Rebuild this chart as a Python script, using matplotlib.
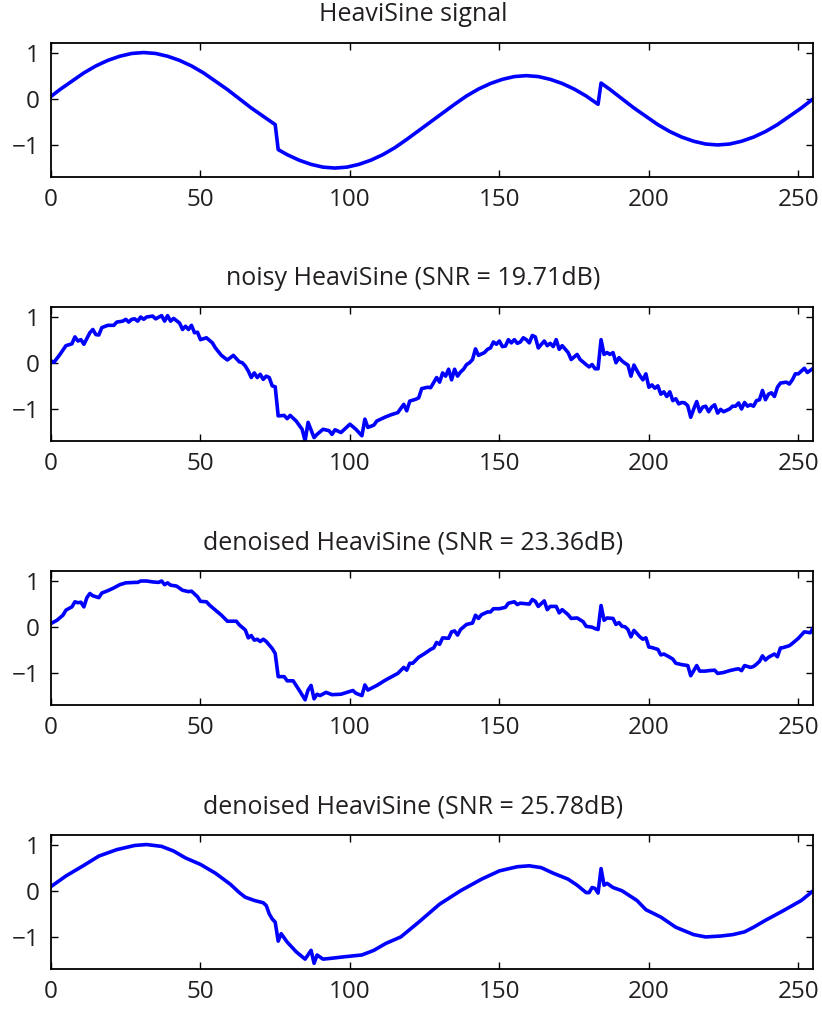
import matplotlib
matplotlib.use("Agg")
import matplotlib.pyplot as plt

# ---------------- data ----------------
titles = ["HeaviSine signal",
          "noisy HeaviSine (SNR = 19.71dB)",
          "denoised HeaviSine (SNR = 23.36dB)",
          "denoised HeaviSine (SNR = 25.78dB)"]

# (sample index, value) pairs
clean_pts = [(0, 0.05), (3, 0.20), (7, 0.38), (11, 0.56), (15, 0.71), (19, 0.83), (23, 0.92),
             (27, 0.98), (31, 1.00), (35, 0.98), (39, 0.92), (43, 0.83), (47, 0.71), (51, 0.56),
             (55, 0.38), (59, 0.20), (63, 0.00), (67, -0.20), (71, -0.38), (75, -0.56),
             (76, -1.10), (79, -1.21), (83, -1.33), (87, -1.42), (91, -1.48), (95, -1.50),
             (99, -1.48), (103, -1.42), (107, -1.33), (111, -1.21), (115, -1.06), (119, -0.88),
             (123, -0.69), (127, -0.50), (131, -0.31), (135, -0.12), (139, 0.06), (143, 0.21),
             (147, 0.33), (151, 0.42), (155, 0.48), (159, 0.50), (163, 0.48), (167, 0.42),
             (171, 0.33), (175, 0.21), (179, 0.06), (183, -0.12),
             (184, 0.34), (187, 0.20), (191, 0.00), (195, -0.20), (199, -0.38), (203, -0.56),
             (207, -0.71), (211, -0.83), (215, -0.92), (219, -0.98), (223, -1.00), (227, -0.98),
             (231, -0.92), (235, -0.83), (239, -0.71), (243, -0.56), (247, -0.38), (251, -0.20),
             (255, 0.00)]

noisy_pts = [(0, 0.04), (1, 0.01), (3, 0.18), (5, 0.37), (7, 0.41), (8, 0.56), (9, 0.47),
             (10, 0.50), (11, 0.40), (13, 0.65), (14, 0.72), (15, 0.61), (16, 0.60), (17, 0.76),
             (19, 0.81), (21, 0.81), (22, 0.88), (24, 0.90), (25, 0.94), (26, 0.88), (27, 0.94),
             (28, 0.95), (29, 0.90), (30, 0.99), (31, 0.94), (32, 0.99), (34, 1.01), (35, 0.95),
             (37, 1.02), (38, 0.90), (39, 1.02), (40, 0.90), (41, 0.96), (43, 0.86), (44, 0.72),
             (45, 0.79), (46, 0.72), (47, 0.81), (48, 0.65), (49, 0.66), (50, 0.50), (52, 0.54),
             (54, 0.43), (55, 0.32), (57, 0.16), (59, 0.06), (61, 0.16), (63, 0.02),
             (64, 0.00), (65, -0.07), (66, -0.18), (67, -0.32), (68, -0.22), (69, -0.32),
             (70, -0.25), (71, -0.36), (72, -0.29), (73, -0.32), (74, -0.50), (75, -0.52),
             (76, -1.15), (78, -1.14), (79, -1.21), (80, -1.14), (82, -1.26), (84, -1.44),
             (85, -1.69), (86, -1.29), (88, -1.62), (89, -1.55), (91, -1.44), (93, -1.47),
             (94, -1.55), (95, -1.45), (97, -1.51), (98, -1.45), (100, -1.33), (102, -1.44),
             (104, -1.58), (105, -1.22), (106, -1.40), (108, -1.35), (109, -1.26), (112, -1.17),
             (114, -1.12), (116, -1.08), (118, -0.90), (119, -1.04), (120, -0.83), (122, -0.79),
             (123, -0.76), (124, -0.56), (126, -0.53),
             (127, -0.54), (129, -0.32), (130, -0.42), (131, -0.22), (132, -0.29), (133, -0.14),
             (134, -0.37), (135, -0.14), (136, -0.29), (137, -0.20), (138, -0.14), (139, -0.04),
             (140, 0.00), (141, 0.07), (142, 0.30), (143, 0.16), (145, 0.22), (146, 0.29),
             (147, 0.32), (148, 0.45), (149, 0.40), (150, 0.47), (151, 0.35), (152, 0.36),
             (153, 0.50), (154, 0.43), (155, 0.50), (156, 0.42), (157, 0.45), (158, 0.54),
             (159, 0.50), (160, 0.43), (161, 0.59), (162, 0.56), (163, 0.32), (165, 0.47),
             (166, 0.37), (167, 0.42), (168, 0.35), (169, 0.50), (170, 0.29), (171, 0.37),
             (173, 0.22), (174, 0.07), (176, 0.18), (177, 0.07), (179, -0.04), (180, -0.09),
             (181, -0.04), (182, -0.13), (183, -0.13), (184, 0.50), (185, 0.18), (186, 0.22),
             (187, 0.18), (188, 0.22), (189, 0.00), (190, 0.11),
             (191, 0.04), (192, -0.01), (193, -0.05), (194, -0.29), (195, -0.05), (196, -0.17),
             (197, -0.28), (198, -0.37), (199, -0.24), (200, -0.53), (201, -0.48), (202, -0.55),
             (203, -0.50), (204, -0.68), (205, -0.63), (206, -0.73), (207, -0.63), (208, -0.82),
             (209, -0.78), (210, -0.89), (211, -0.86), (212, -0.87), (213, -0.93), (214, -1.18),
             (215, -1.00), (216, -0.84), (217, -1.06), (218, -0.96), (219, -0.94), (220, -1.06),
             (221, -0.96), (222, -0.91), (223, -1.09), (224, -1.01), (225, -1.06), (227, -1.00),
             (228, -0.94), (229, -0.94), (230, -0.87), (231, -1.00), (232, -0.86), (233, -0.94),
             (234, -0.91), (235, -0.94), (236, -0.82), (237, -0.80), (238, -0.60), (239, -0.80),
             (240, -0.68), (241, -0.65), (242, -0.73), (243, -0.53), (244, -0.44), (246, -0.42),
             (247, -0.46), (248, -0.37), (249, -0.24), (250, -0.24), (252, -0.12), (253, -0.21),
             (255, -0.12)]

den1_pts = [(0, 0.07), (2, 0.14), (4, 0.25), (5, 0.36), (7, 0.43), (8, 0.54), (9, 0.52),
            (10, 0.53), (11, 0.43), (12, 0.63), (13, 0.72), (14, 0.67), (16, 0.63), (17, 0.73),
            (19, 0.78), (21, 0.84), (23, 0.91), (25, 0.95), (28, 0.96), (29, 0.96), (30, 0.99),
            (32, 0.99), (34, 0.97), (36, 0.96), (37, 0.99), (38, 0.91), (39, 0.95), (40, 0.90),
            (42, 0.88), (44, 0.79), (46, 0.76), (47, 0.77), (49, 0.65), (50, 0.55), (52, 0.54),
            (53, 0.47), (55, 0.36), (57, 0.25), (59, 0.12), (62, 0.12), (63, 0.04), (65, -0.07),
            (66, -0.24), (67, -0.19), (68, -0.29), (69, -0.27), (70, -0.32), (71, -0.27),
            (72, -0.32), (74, -0.47), (75, -0.58), (76, -1.08), (78, -1.08), (79, -1.17),
            (81, -1.17), (83, -1.37), (85, -1.58), (86, -1.37), (87, -1.27), (88, -1.56),
            (89, -1.46), (90, -1.49), (92, -1.42), (94, -1.47), (97, -1.46), (99, -1.42),
            (101, -1.38), (102, -1.44), (104, -1.49), (105, -1.26), (106, -1.37), (109, -1.27),
            (112, -1.15), (116, -1.01), (118, -0.88), (119, -0.94), (120, -0.79), (121, -0.79),
            (123, -0.66), (125, -0.58), (127, -0.49), (128, -0.46), (129, -0.34), (130, -0.38),
            (131, -0.24), (133, -0.25), (134, -0.11), (135, -0.09), (136, -0.18), (137, -0.06),
            (139, 0.05), (141, 0.08), (142, 0.25), (143, 0.18), (144, 0.26), (146, 0.32),
            (147, 0.32), (148, 0.39), (150, 0.39), (152, 0.42), (153, 0.51), (155, 0.54),
            (156, 0.48), (157, 0.51), (160, 0.49), (161, 0.59), (162, 0.55), (163, 0.44),
            (165, 0.56), (166, 0.37), (167, 0.44), (169, 0.44), (170, 0.30), (171, 0.37),
            (173, 0.26), (174, 0.18), (176, 0.19), (178, 0.11), (179, 0.01), (181, -0.01),
            (182, -0.04), (183, -0.06), (184, 0.46), (185, 0.14), (186, 0.19), (188, 0.18),
            (189, 0.05), (190, 0.09), (191, 0.01), (192, 0.00), (193, -0.06), (194, -0.22),
            (195, -0.08), (197, -0.22), (198, -0.27), (199, -0.24), (200, -0.44), (201, -0.45),
            (203, -0.49), (204, -0.61), (205, -0.59), (207, -0.66), (208, -0.70), (209, -0.79),
            (211, -0.82), (213, -0.84), (214, -1.06), (215, -0.95), (216, -0.84), (217, -0.96),
            (219, -0.96), (220, -0.95), (222, -0.94), (223, -1.01), (225, -0.99), (227, -0.95),
            (229, -0.92), (230, -0.91), (231, -0.95), (232, -0.84), (234, -0.88), (235, -0.86),
            (236, -0.81), (237, -0.75), (238, -0.63), (239, -0.72), (240, -0.66), (242, -0.59),
            (243, -0.65), (244, -0.46), (245, -0.45), (247, -0.41), (248, -0.36), (250, -0.25),
            (251, -0.18), (252, -0.11), (254, -0.13), (255, -0.02)]

den2_pts = [(0, 0.09), (5, 0.32), (11, 0.55), (16, 0.75), (22, 0.89), (28, 0.98), (32, 1.00),
            (37, 0.96), (41, 0.86), (45, 0.71), (50, 0.57), (55, 0.38), (60, 0.14), (63, -0.04),
            (65, -0.14), (68, -0.21), (71, -0.26), (72, -0.32), (73, -0.50), (74, -0.61),
            (75, -0.68), (76, -1.09), (77, -0.93), (78, -1.02), (79, -1.11), (82, -1.32),
            (85, -1.48), (87, -1.29), (88, -1.57), (89, -1.39), (91, -1.48), (94, -1.46),
            (98, -1.43), (101, -1.41), (104, -1.39), (108, -1.29), (112, -1.14), (117, -1.00),
            (123, -0.68), (130, -0.29), (137, 0.00), (144, 0.25), (150, 0.43), (156, 0.52),
            (160, 0.54), (164, 0.50), (168, 0.38), (173, 0.25), (176, 0.12), (179, -0.04),
            (180, -0.04), (181, 0.07), (182, 0.05), (183, -0.05), (184, 0.48), (185, 0.12),
            (186, 0.16), (188, 0.07), (191, 0.00), (196, -0.21), (199, -0.41), (204, -0.57),
            (209, -0.79), (215, -0.95), (219, -1.00), (224, -0.98), (228, -0.95), (232, -0.89),
            (235, -0.79), (239, -0.64), (245, -0.43), (251, -0.21), (255, 0.00)]

series = [clean_pts, noisy_pts, den1_pts, den2_pts]

x_ticks = [0, 50, 100, 150, 200, 250]
y_ticks = [-1, 0, 1]

# ---------------- figure ----------------
plt.rcParams['font.family'] = ['Open Sans', 'DejaVu Sans']

W, H = 822, 1009
fig = plt.figure(figsize=(W / 100, H / 100), dpi=100)

left, right = 51 / W, 813.3 / W
tops = [43.3, 307.3, 571.3, 835.3]
ax_h = 134.0
text_col = '#231f20'

for i in range(4):
    xs = [p[0] for p in series[i]]
    ys = [p[1] for p in series[i]]
    bottom = 1 - (tops[i] + ax_h) / H
    ax = fig.add_axes([left, bottom, right - left, ax_h / H])
    ax.plot(xs, ys, color='#0000ff', linewidth=2.6, solid_joinstyle='round')
    ax.set_xlim(0, 255)
    ax.set_ylim(-1.7, 1.2)
    ax.set_xticks(x_ticks)
    ax.set_yticks(y_ticks)
    ax.tick_params(direction='in', length=5, width=1.0, top=True, right=True,
                   labelsize=17.5, colors='black', labelcolor=text_col, pad=8)
    for s in ax.spines.values():
        s.set_linewidth(1.3)
    ax.set_title(titles[i], fontsize=18, color=text_col, pad=16, x=0.475)

fig.savefig('out.png', dpi=100)
